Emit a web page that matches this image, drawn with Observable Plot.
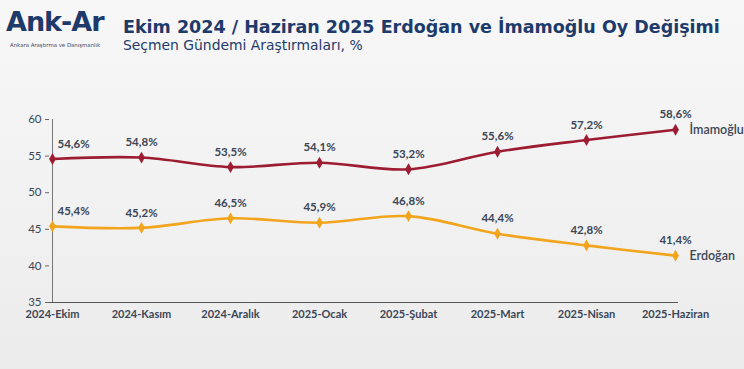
<!DOCTYPE html>
<html>
<head>
<meta charset="utf-8">
<script src="https://cdn.jsdelivr.net/npm/d3@7"></script>
<script src="https://cdn.jsdelivr.net/npm/@observablehq/plot@0.6"></script>
<style>
  html, body { margin: 0; padding: 0; }
  body { width: 744px; height: 369px; overflow: hidden;
         background: linear-gradient(180deg, #f7f7f7 0%, #f1f1f1 60%, #ebebeb 100%);
         position: relative; font-family: "DejaVu Sans", sans-serif; }
  #logo { position: absolute; left: 6px; top: 7px; color: #1d3a6b; }
  #logo .big { font-family: "DejaVu Sans", sans-serif; font-weight: bold; font-size: 27px; letter-spacing: -1px; line-height: 30px; }
  #logo .small { font-family: "DejaVu Sans", sans-serif; font-size: 5.4px; color: #3a4a6a; margin-left: 4px; margin-top: 5px; }
  #title { position: absolute; left: 123px; top: 18.5px; line-height: 1; color: #1d3a6b; font-weight: bold; font-size: 17.5px; white-space: nowrap; }
  #subtitle { position: absolute; left: 123px; top: 39px; line-height: 1; color: #1d3a6b; font-size: 13.9px; white-space: nowrap; }
  #chart { position: absolute; left: 0; top: 95px; }
</style>
</head>
<body>
<div id="logo"><div class="big">Ank-Ar</div><div class="small">Ankara Araştırma ve Danışmanlık</div></div>
<div id="title">Ekim 2024 / Haziran 2025 Erdoğan ve İmamoğlu Oy Değişimi</div>
<div id="subtitle">Seçmen Gündemi Araştırmaları, %</div>
<div id="chart"></div>
<script>
const months = ["2024-Ekim","2024-Kasım","2024-Aralık","2025-Ocak","2025-Şubat","2025-Mart","2025-Nisan","2025-Haziran"];
const imamoglu = [54.6, 54.8, 53.5, 54.1, 53.2, 55.6, 57.2, 58.6];
const erdogan = [45.4, 45.2, 46.5, 45.9, 46.8, 44.4, 42.8, 41.4];
const seriesNames = ["İmamoğlu", "Erdoğan"];
const seriesColors = ["#9c1c32", "#f2a51c"];
const yTicks = [35, 40, 45, 50, 55, 60];

const data = [];
[imamoglu, erdogan].forEach((vals, si) => {
  vals.forEach((v, i) => data.push({month: months[i], value: v, series: seriesNames[si], idx: i}));
});
const fmt = v => v.toFixed(1).replace(".", ",") + "%";
const labelFont = "Lato, 'Open Sans', sans-serif";
const textColor = "#3b4656";

const plot = Plot.plot({
  width: 744,
  height: 240,
  marginTop: 24,
  marginBottom: 33,
  marginLeft: 49,
  marginRight: 66,
  style: {background: "transparent", fontFamily: labelFont, overflow: "visible"},
  x: {type: "point", domain: months, padding: 0, label: null},
  y: {domain: [35, 60], label: null},
  color: {domain: seriesNames, range: seriesColors},
  marks: [
    Plot.axisY({ticks: yTicks, tickSize: 4, tickPadding: 4, fontSize: 11.5, fill: textColor, stroke: "#666", label: null}),
    Plot.axisX({tickSize: 0, tickPadding: 8, fontSize: 11, fontWeight: "bold", fill: textColor, label: null}),
    Plot.ruleY([35], {stroke: "#555", strokeWidth: 1}),
    Plot.ruleX([months[0]], {stroke: "#777", strokeWidth: 1}),
    Plot.line(data, {x: "month", y: "value", z: "series", stroke: "series", strokeWidth: 2.6, curve: "catmull-rom"}),
    Plot.dot(data, {x: "month", y: "value", fill: "series", symbol: "diamond", r: 3.6}),
    Plot.text(data.filter(d => d.idx > 0), {x: "month", y: "value", text: d => fmt(d.value), dy: -15, fontSize: 11.5, fontWeight: "bold", fill: textColor}),
    Plot.text(data.filter(d => d.idx === 0), {x: "month", y: "value", text: d => fmt(d.value), dy: -15, dx: 5, textAnchor: "start", fontSize: 11.5, fontWeight: "bold", fill: textColor}),
    Plot.text(data.filter(d => d.idx === months.length - 1), {x: "month", y: "value", text: "series", dx: 14, textAnchor: "start", fontSize: 12.5, fontWeight: 600, fill: textColor})
  ]
});
document.getElementById("chart").appendChild(plot);
</script>
</body>
</html>
